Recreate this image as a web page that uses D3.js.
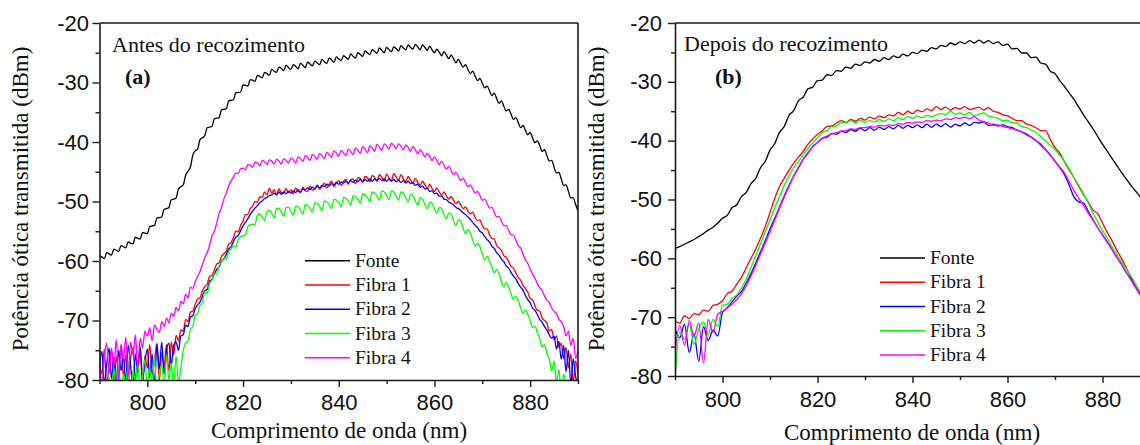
<!DOCTYPE html>
<html><head><meta charset="utf-8">
<script src="https://cdn.jsdelivr.net/npm/d3@7"></script>
<style>body{margin:0;background:#fff} svg{display:block}</style>
</head><body>
<svg id="chart" width="1140" height="445"></svg>
<script>
// ---------- data ----------
const seriesNames = ["Fonte", "Fibra 1", "Fibra 2", "Fibra 3", "Fibra 4"];
const seriesColors = ["#000000", "#ff0000", "#0000ff", "#00ff00", "#ff00ff"];
const xTicks = [800, 820, 840, 860, 880];
const xMinorTicks = [790, 810, 830, 850, 870, 890];
const yTicks = [-20, -30, -40, -50, -60, -70, -80];
const yMinorTicks = [-25, -35, -45, -55, -65, -75];
const panelTitles = ["Antes do recozimento", "Depois do recozimento"];
const panelLabels = ["(a)", "(b)"];
const xAxisTitle = "Comprimento de onda (nm)";
const yAxisTitle = "Potência ótica transmitida (dBm)";

// panel (a): wavelengths 790 .. 890 nm, every 0.5 nm (10 values per 5 nm row)
const startA = 790, stepA = 0.5;
const fonteA = [
-59.1,-59.3,-59.6,-58.6,-58.8,-59.0,-58.0,-58.2,-58.4,-57.4,
-57.6,-57.8,-56.8,-57.0,-57.1,-56.0,-56.2,-56.3,-55.2,-55.3,
-55.4,-54.2,-54.1,-54.0,-52.8,-52.7,-52.6,-51.3,-51.2,-51.0,
-49.7,-49.6,-49.4,-47.9,-47.5,-47.2,-45.6,-44.9,-44.2,-42.2,
-41.5,-41.2,-39.6,-39.3,-38.9,-37.6,-37.5,-37.4,-36.1,-36.0,
-35.9,-34.6,-34.5,-34.4,-33.1,-33.0,-32.9,-31.7,-31.7,-31.6,
-30.4,-30.5,-30.6,-29.5,-29.6,-29.8,-28.8,-29.0,-29.2,-28.3,
-28.5,-28.8,-27.8,-28.1,-28.3,-27.4,-27.6,-28.0,-27.1,-27.5,
-27.8,-27.0,-27.3,-27.7,-26.8,-27.1,-27.5,-26.6,-26.9,-27.2,
-26.4,-26.7,-27.0,-26.1,-26.5,-26.8,-25.9,-26.2,-26.6,-25.7,
-26.0,-26.3,-25.5,-25.8,-26.1,-25.2,-25.6,-25.9,-25.0,-25.3,
-25.6,-24.7,-25.0,-25.3,-24.5,-24.8,-25.1,-24.2,-24.6,-25.0,
-24.1,-24.5,-24.8,-24.0,-24.3,-24.7,-23.8,-24.2,-24.5,-23.7,
-24.1,-24.4,-23.6,-24.0,-24.5,-23.7,-24.1,-24.6,-23.9,-24.5,
-25.0,-24.4,-24.9,-25.5,-24.8,-25.4,-26.0,-25.4,-26.0,-26.7,
-26.1,-26.8,-27.4,-27.0,-27.8,-28.5,-28.1,-28.9,-29.7,-29.3,
-30.1,-30.9,-30.6,-31.4,-32.2,-31.8,-32.7,-33.5,-33.1,-34.0,
-34.8,-34.5,-35.3,-36.2,-35.9,-36.7,-37.6,-37.2,-38.0,-38.8,
-38.4,-39.3,-40.1,-39.8,-40.6,-41.6,-41.3,-42.3,-43.2,-43.1,
-44.2,-45.2,-45.1,-46.2,-47.3,-47.2,-48.3,-49.4,-49.4,-50.5,
-51.6];
const fibra1A = [
-76.5,-79.0,-74.8,-81.0,-77.2,-75.0,-80.5,-76.0,-78.8,-74.2,
-79.5,-75.8,-81.0,-76.4,-74.5,-79.8,-77.0,-75.2,-80.8,-75.9,
-78.0,-74.0,-79.2,-76.6,-73.8,-80.2,-75.4,-77.8,-74.0,-78.5,
-73.6,-75.8,-72.5,-73.4,-71.6,-71.8,-69.8,-70.2,-68.6,-68.4,
-67.3,-66.4,-66.2,-65.0,-64.3,-63.9,-62.6,-62.4,-61.5,-60.5,
-60.3,-59.2,-58.8,-58.3,-57.2,-56.9,-56.0,-55.0,-55.1,-54.0,
-53.3,-52.2,-52.2,-51.2,-50.8,-50.0,-50.1,-49.2,-49.3,-48.4,
-48.9,-47.8,-48.6,-48.0,-48.9,-47.9,-48.5,-48.6,-47.8,-48.5,
-48.0,-48.7,-47.7,-48.3,-48.5,-47.6,-48.2,-48.3,-47.4,-48.1,
-47.9,-47.2,-47.9,-47.5,-46.9,-47.7,-47.1,-46.6,-47.5,-46.9,
-46.5,-47.3,-46.6,-46.3,-47.1,-46.3,-46.2,-47.0,-46.0,-46.1,
-46.8,-45.8,-46.0,-46.7,-45.6,-46.0,-46.6,-45.5,-45.9,-46.6,
-45.4,-46.0,-46.5,-45.3,-45.9,-46.5,-45.5,-46.2,-46.7,-45.8,
-46.4,-47.0,-46.1,-46.8,-47.3,-46.6,-47.2,-47.8,-47.1,-47.8,
-48.3,-47.7,-48.4,-48.9,-48.4,-49.1,-49.6,-49.2,-49.8,-50.4,
-50.0,-50.6,-51.2,-50.9,-51.6,-52.1,-51.8,-52.7,-53.2,-53.1,
-54.0,-54.6,-54.6,-55.6,-56.2,-56.3,-57.4,-57.8,-58.2,-59.1,
-59.4,-60.1,-60.9,-61.2,-62.0,-62.8,-63.2,-64.1,-64.6,-65.2,
-66.3,-66.5,-67.5,-68.3,-68.4,-69.6,-70.0,-70.4,-71.8,-71.5,
-73.2,-72.6,-74.5,-73.8,-76.4,-74.5,-78.0,-75.6,-80.5,-76.8,
-79.2];
const fibra2A = [
-78.0,-75.2,-80.6,-77.4,-74.6,-79.8,-76.2,-81.0,-75.0,-78.4,
-76.0,-80.4,-74.2,-77.6,-81.0,-75.6,-78.8,-74.4,-80.0,-76.8,
-74.8,-79.6,-75.6,-81.0,-74.0,-78.2,-73.6,-79.0,-75.0,-73.8,
-77.5,-74.2,-73.6,-75.0,-72.6,-72.4,-70.8,-71.0,-69.4,-69.2,
-68.0,-67.4,-66.9,-66.0,-65.0,-64.8,-63.4,-63.1,-62.2,-61.4,
-61.0,-60.0,-59.6,-58.9,-58.0,-57.6,-56.7,-56.0,-55.7,-54.9,
-54.1,-53.5,-52.9,-52.2,-51.6,-51.1,-50.7,-50.2,-49.9,-49.5,
-49.3,-49.0,-48.9,-48.6,-48.9,-48.4,-48.8,-48.4,-48.7,-48.3,
-48.6,-48.2,-48.5,-48.0,-48.4,-47.9,-48.1,-47.7,-48.0,-47.6,
-47.9,-47.4,-47.7,-47.3,-47.5,-47.1,-47.4,-47.0,-47.2,-46.8,
-47.1,-46.7,-46.9,-46.6,-46.9,-46.5,-46.8,-46.4,-46.7,-46.3,
-46.7,-46.3,-46.6,-46.2,-46.6,-46.2,-46.5,-46.1,-46.5,-46.2,
-46.6,-46.2,-46.6,-46.3,-46.7,-46.4,-46.8,-46.5,-46.9,-46.6,
-47.0,-46.8,-47.3,-47.1,-47.6,-47.4,-47.9,-47.8,-48.3,-48.2,
-48.7,-48.6,-49.1,-49.1,-49.6,-49.7,-50.1,-50.3,-50.6,-51.0,
-51.2,-51.5,-51.9,-52.2,-52.6,-53.0,-53.5,-54.0,-54.4,-55.0,
-55.3,-55.9,-56.4,-56.8,-57.5,-57.9,-58.6,-59.0,-59.7,-60.1,
-60.8,-61.2,-61.9,-62.5,-63.0,-63.8,-64.4,-64.9,-65.8,-66.5,
-67.0,-67.9,-68.3,-69.0,-69.8,-70.3,-71.0,-71.6,-72.4,-73.0,
-72.6,-74.8,-73.5,-76.5,-74.2,-78.6,-75.0,-80.8,-76.4,-79.4,
-81.0];
const fibra3A = [
-82.0,-82.0,-82.0,-82.0,-79.5,-82.0,-78.0,-81.5,-77.6,-82.0,
-79.0,-81.0,-76.8,-82.0,-78.4,-80.5,-77.0,-81.8,-79.2,-76.5,
-81.5,-78.0,-80.8,-76.2,-82.0,-79.0,-77.4,-81.2,-75.8,-80.0,
-77.2,-81.5,-76.0,-80.5,-78.0,-75.0,-73.8,-73.4,-71.5,-71.0,
-69.2,-68.8,-67.5,-67.0,-65.2,-65.4,-63.8,-63.2,-62.0,-62.2,
-60.8,-60.2,-59.5,-59.8,-58.4,-57.9,-57.5,-57.6,-56.3,-55.9,
-55.8,-55.6,-54.2,-53.9,-53.8,-53.9,-52.3,-52.1,-52.6,-53.2,
-51.6,-51.5,-52.0,-52.7,-51.1,-51.2,-51.8,-52.5,-51.0,-51.0,
-51.6,-52.3,-50.8,-50.9,-51.4,-52.1,-50.5,-50.7,-51.1,-51.8,
-50.2,-50.4,-50.8,-51.5,-49.9,-50.1,-50.5,-51.2,-49.6,-49.8,
-50.2,-50.9,-49.3,-49.5,-49.9,-50.6,-49.0,-49.2,-49.6,-50.3,
-48.7,-48.9,-49.3,-50.0,-48.4,-48.6,-49.1,-49.8,-48.2,-48.4,
-49.0,-49.7,-48.2,-48.4,-49.1,-49.8,-48.4,-48.6,-49.4,-50.1,
-48.8,-49.0,-49.9,-50.6,-49.4,-49.6,-50.5,-51.2,-50.1,-50.3,
-51.3,-52.0,-51.0,-51.2,-52.2,-52.9,-51.9,-52.1,-53.3,-54.0,
-53.1,-53.3,-54.5,-55.4,-54.7,-55.3,-56.5,-57.5,-57.0,-57.6,
-58.8,-59.8,-59.2,-59.9,-61.0,-62.0,-61.4,-62.1,-63.5,-64.3,
-63.6,-64.4,-65.5,-66.4,-65.9,-66.6,-67.8,-68.8,-68.2,-69.0,
-70.0,-71.2,-71.0,-72.0,-73.0,-74.5,-74.0,-75.5,-76.5,-78.5,
-76.8,-80.5,-78.2,-82.0,-79.0,-80.8,-82.0,-82.0,-82.0,-82.0,
-82.0];
const fibra4A = [
-75.0,-80.5,-76.2,-73.8,-79.0,-74.6,-77.8,-73.2,-80.2,-74.0,
-76.5,-72.8,-79.4,-73.6,-75.8,-72.4,-78.0,-73.0,-74.6,-71.8,
-72.6,-71.2,-73.4,-70.8,-71.5,-72.0,-70.2,-71.0,-69.6,-70.4,
-68.8,-69.3,-67.8,-68.4,-66.8,-67.2,-65.6,-66.2,-64.4,-64.6,
-63.5,-62.6,-61.8,-60.6,-59.5,-58.6,-57.4,-55.8,-55.0,-53.6,
-52.0,-51.0,-49.6,-48.6,-47.4,-46.5,-45.9,-45.2,-45.3,-44.5,
-44.4,-44.7,-43.8,-43.9,-44.3,-43.4,-43.5,-44.0,-43.1,-43.3,
-43.8,-43.0,-43.2,-43.7,-42.9,-43.2,-43.7,-42.8,-43.1,-43.6,
-42.7,-43.0,-43.5,-42.5,-42.8,-43.3,-42.3,-42.6,-43.1,-42.1,
-42.4,-42.9,-41.9,-42.3,-42.8,-41.7,-42.1,-42.6,-41.5,-41.9,
-42.4,-41.4,-41.8,-42.3,-41.2,-41.6,-42.1,-41.0,-41.4,-41.9,
-40.8,-41.2,-41.8,-40.6,-41.0,-41.6,-40.4,-40.8,-41.4,-40.3,
-40.6,-41.2,-40.2,-40.6,-41.1,-40.3,-40.7,-41.3,-40.5,-40.9,
-41.6,-40.8,-41.3,-42.0,-41.3,-41.8,-42.5,-41.9,-42.4,-43.1,
-42.5,-43.1,-43.8,-43.2,-43.9,-44.6,-44.1,-44.8,-45.5,-45.1,
-45.8,-46.5,-46.1,-46.8,-47.5,-47.2,-47.9,-48.6,-48.3,-49.0,
-49.8,-49.6,-50.3,-51.1,-51.0,-51.8,-52.6,-52.5,-53.3,-54.1,
-54.0,-54.8,-55.6,-55.6,-56.5,-57.4,-57.8,-58.8,-59.8,-60.4,
-61.3,-62.2,-62.9,-63.8,-64.5,-65.0,-65.9,-66.6,-67.0,-67.9,
-68.5,-68.8,-69.8,-70.2,-71.0,-72.6,-71.8,-74.2,-73.0,-76.4,
-75.0];

// panel (b): wavelengths 790 .. 890 nm, every 1 nm (10 values per 10 nm row)
const startB = 790, stepB = 1;
const fonteB = [
-58.3,-58.0,-57.6,-57.2,-56.8,-56.3,-55.8,-55.2,-54.7,-54.0,
-53.2,-52.7,-51.4,-50.9,-49.5,-48.8,-47.3,-46.4,-44.6,-43.5,
-41.6,-40.5,-38.6,-37.6,-35.7,-34.9,-33.2,-32.6,-31.2,-30.9,
-29.8,-29.7,-28.8,-28.9,-28.1,-28.2,-27.5,-27.7,-27.0,-27.2,
-26.6,-26.8,-26.2,-26.5,-25.9,-26.2,-25.6,-25.9,-25.3,-25.6,
-25.0,-25.2,-24.6,-24.8,-24.2,-24.4,-23.8,-24.0,-23.4,-23.7,
-23.2,-23.5,-23.0,-23.4,-22.9,-23.4,-23.0,-23.5,-23.2,-23.8,
-23.6,-24.4,-24.3,-25.1,-25.1,-25.9,-25.8,-26.8,-27.0,-28.2,
-28.6,-29.8,-30.8,-31.9,-33.0,-34.3,-35.6,-36.8,-38.0,-39.3,
-40.6,-41.8,-43.0,-44.2,-45.4,-46.5,-47.6,-48.6,-49.6,-50.6,
-51.5];
const fibra1B = [
-70.6,-71.0,-69.8,-70.2,-69.4,-69.6,-68.8,-69.0,-68.0,-67.8,
-67.2,-66.0,-65.6,-64.4,-63.2,-61.6,-60.0,-58.4,-56.6,-54.6,
-52.2,-49.8,-47.8,-46.4,-45.0,-43.8,-42.8,-41.8,-40.6,-39.7,
-38.9,-38.3,-37.6,-37.5,-37.0,-36.6,-36.9,-36.4,-36.7,-36.2,
-36.5,-36.0,-36.3,-35.8,-36.1,-35.6,-35.8,-35.2,-35.6,-35.0,
-35.4,-34.8,-35.1,-34.6,-34.9,-34.2,-34.7,-34.3,-34.8,-34.4,
-34.6,-34.2,-34.7,-34.5,-34.3,-34.8,-34.4,-35.0,-35.2,-35.6,
-35.8,-36.2,-36.6,-36.6,-37.2,-37.4,-37.8,-38.3,-38.3,-39.8,
-41.2,-42.1,-43.6,-45.0,-46.3,-47.8,-49.2,-50.4,-51.8,-52.4,
-54.0,-55.6,-57.0,-58.6,-60.0,-61.6,-63.2,-64.8,-66.0,-67.4,
-68.6];
const fibra2B = [
-72.0,-73.5,-71.2,-76.0,-72.8,-77.5,-71.6,-74.0,-72.2,-73.2,
-69.2,-68.4,-67.4,-66.4,-65.6,-64.2,-62.6,-60.8,-58.9,-57.0,
-55.0,-53.2,-51.3,-49.4,-47.6,-46.0,-44.6,-43.2,-42.1,-41.0,
-40.3,-39.6,-39.4,-38.8,-38.9,-38.4,-38.6,-38.1,-38.4,-37.9,
-38.3,-37.8,-38.2,-37.7,-38.1,-37.6,-38.0,-37.4,-37.9,-37.4,
-37.8,-37.3,-37.8,-37.2,-37.7,-37.2,-37.6,-37.1,-37.7,-37.2,
-37.5,-37.0,-37.4,-36.9,-37.0,-36.8,-37.4,-37.2,-37.5,-37.3,
-37.6,-37.8,-38.2,-38.5,-39.0,-39.4,-40.0,-40.6,-41.5,-42.4,
-43.5,-44.6,-45.8,-47.6,-49.6,-50.4,-50.6,-52.0,-53.4,-54.8,
-56.0,-57.2,-58.5,-59.8,-61.0,-62.4,-63.6,-65.0,-66.2,-67.6,
-68.8];
const fibra3B = [
-80.5,-72.5,-73.8,-71.2,-74.6,-72.0,-70.8,-73.0,-70.4,-71.6,
-68.0,-67.8,-66.8,-66.2,-65.0,-63.5,-61.5,-59.6,-57.5,-55.5,
-53.5,-51.4,-49.5,-47.6,-46.0,-44.6,-43.5,-42.4,-41.3,-40.4,
-39.5,-38.6,-38.3,-37.6,-37.5,-36.9,-37.0,-36.6,-37.0,-36.5,
-36.9,-36.6,-36.8,-36.4,-36.7,-36.3,-36.6,-36.1,-36.4,-35.9,
-36.2,-35.8,-36.1,-35.7,-35.9,-35.6,-35.4,-35.6,-35.0,-35.5,
-35.3,-35.6,-35.2,-35.8,-35.5,-35.3,-35.8,-36.0,-36.2,-36.6,
-36.5,-37.0,-37.0,-37.6,-37.8,-38.2,-38.6,-39.3,-40.0,-40.8,
-41.5,-42.5,-43.5,-44.8,-46.3,-47.6,-49.0,-50.6,-52.3,-53.8,
-55.3,-56.6,-58.0,-59.3,-60.5,-61.8,-63.0,-64.4,-65.8,-67.0,
-68.2];
const fibra4B = [
-76.0,-71.4,-74.8,-70.6,-73.2,-71.0,-77.8,-70.4,-72.6,-69.5,
-69.0,-68.4,-67.8,-67.0,-66.0,-64.7,-63.0,-61.2,-59.3,-57.4,
-55.5,-53.5,-51.5,-49.6,-47.8,-46.0,-44.5,-43.1,-42.0,-41.1,
-40.3,-39.6,-39.2,-38.8,-38.6,-38.4,-38.3,-38.0,-38.1,-37.8,
-37.8,-37.6,-37.7,-37.4,-37.5,-37.3,-37.4,-37.1,-37.2,-36.9,
-37.0,-36.8,-36.9,-36.6,-36.7,-36.5,-36.6,-36.3,-36.4,-36.1,
-36.2,-36.0,-36.3,-35.9,-36.5,-36.8,-37.0,-37.4,-37.3,-37.6,
-37.8,-38.0,-38.2,-38.5,-38.8,-39.4,-40.0,-40.8,-41.6,-42.5,
-43.5,-44.5,-45.5,-47.0,-48.5,-49.8,-51.0,-52.3,-53.5,-54.8,
-56.0,-57.3,-58.5,-59.8,-61.0,-62.4,-63.7,-65.0,-66.3,-67.5,
-68.8];

// ---------- layout ----------
const panels = [
  {series:[fonteA,fibra1A,fibra2A,fibra3A,fibra4A], start:startA, step:stepA,
   left:99.5, right:578, top:23, bottom:380, yPad:3.5, xPad:7.5,
   yTitleX:28, xTitleX:339, xTitleY:438, legX:305, legY:260.7,
   titleX:112, titleY:52, labX:125, labY:84},
  {series:[fonteB,fibra1B,fibra2B,fibra3B,fibra4B], start:startB, step:stepB,
   left:675, right:1150, top:23, bottom:376, yPad:6, xPad:8,
   yTitleX:604, xTitleX:912, xTitleY:440, legX:880, legY:258,
   titleX:684, titleY:51, labX:715, labY:84}
];

const svg = d3.select("#chart");
const SANS = "'Liberation Sans', Arial, sans-serif";
const SERIF = "'Liberation Serif', 'Times New Roman', serif";
const AX = "#1a1a1a";

panels.forEach((p, pi) => {
  const x = d3.scaleLinear().domain([790, 890]).range([p.left, p.right]);
  const y = d3.scaleLinear().domain([-80, -20]).range([p.bottom, p.top]);
  const g = svg.append("g");

  const clipId = "clip" + pi;
  svg.append("defs").append("clipPath").attr("id", clipId)
    .append("rect").attr("x", p.left).attr("y", p.top)
    .attr("width", p.right - p.left).attr("height", p.bottom - p.top);

  // curves
  const line = d3.line()
    .curve(d3.curveMonotoneX)
    .x((d, i) => x(p.start + i * p.step))
    .y(d => y(d));
  const cg = g.append("g").attr("clip-path", `url(#${clipId})`);
  p.series.forEach((s, si) => {
    cg.append("path").datum(s).attr("d", line)
      .attr("fill", "none").attr("stroke", seriesColors[si])
      .attr("stroke-width", 1.3).attr("stroke-linejoin", "round");
  });

  // box (top + right)
  g.append("line").attr("x1", p.left).attr("x2", p.right).attr("y1", p.top).attr("y2", p.top)
    .attr("stroke", AX).attr("stroke-width", 1.6);
  g.append("line").attr("x1", p.right).attr("x2", p.right).attr("y1", p.top).attr("y2", p.bottom)
    .attr("stroke", AX).attr("stroke-width", 1.6);

  // y axis
  g.append("g").attr("transform", `translate(${p.left},0)`)
    .call(d3.axisLeft(y).tickValues(yTicks).tickSize(7).tickSizeOuter(0)
      .tickPadding(p.yPad).tickFormat(d => String(d)));
  g.append("g").attr("transform", `translate(${p.left},0)`)
    .call(d3.axisLeft(y).tickValues(yMinorTicks).tickSize(4).tickSizeOuter(0).tickFormat(""))
    .select(".domain").remove();
  // x axis
  g.append("g").attr("transform", `translate(0,${p.bottom})`)
    .call(d3.axisBottom(x).tickValues(xTicks).tickSize(7).tickSizeOuter(0)
      .tickPadding(p.xPad).tickFormat(d => String(d)));
  g.append("g").attr("transform", `translate(0,${p.bottom})`)
    .call(d3.axisBottom(x).tickValues(xMinorTicks).tickSize(4).tickSizeOuter(0).tickFormat(""))
    .select(".domain").remove();

  g.selectAll(".domain").attr("stroke", AX).attr("stroke-width", 1.6);
  g.selectAll(".tick line").attr("stroke", AX).attr("stroke-width", 1.4);
  g.selectAll(".tick text").attr("fill", "#111").style("font-family", SANS).style("font-size", "22px");

  // axis titles
  g.append("text").attr("x", p.xTitleX).attr("y", p.xTitleY).attr("text-anchor", "middle")
    .style("font-family", SERIF).style("font-size", "23px").attr("fill", "#111").text(xAxisTitle);
  g.append("text").attr("transform", `translate(${p.yTitleX},199) rotate(-90)`)
    .attr("text-anchor", "middle")
    .style("font-family", SERIF).style("font-size", "23px").attr("fill", "#111").text(yAxisTitle);

  // panel annotations
  g.append("text").attr("x", p.titleX).attr("y", p.titleY)
    .style("font-family", SERIF).style("font-size", "22px").attr("fill", "#111").text(panelTitles[pi]);
  g.append("text").attr("x", p.labX).attr("y", p.labY)
    .style("font-family", SERIF).style("font-size", "22px").style("font-weight", "bold")
    .attr("fill", "#111").text(panelLabels[pi]);

  // legend
  const lg = g.append("g");
  seriesNames.forEach((n, si) => {
    const yy = p.legY + si * 24.25;
    lg.append("line").attr("x1", p.legX).attr("x2", p.legX + 45).attr("y1", yy).attr("y2", yy)
      .attr("stroke", seriesColors[si]).attr("stroke-width", 1.5);
    lg.append("text").attr("x", p.legX + 50).attr("y", yy).attr("dy", "0.32em")
      .style("font-family", SERIF).style("font-size", "19.5px").attr("fill", "#111").text(n);
  });
});
</script>
</body></html>
